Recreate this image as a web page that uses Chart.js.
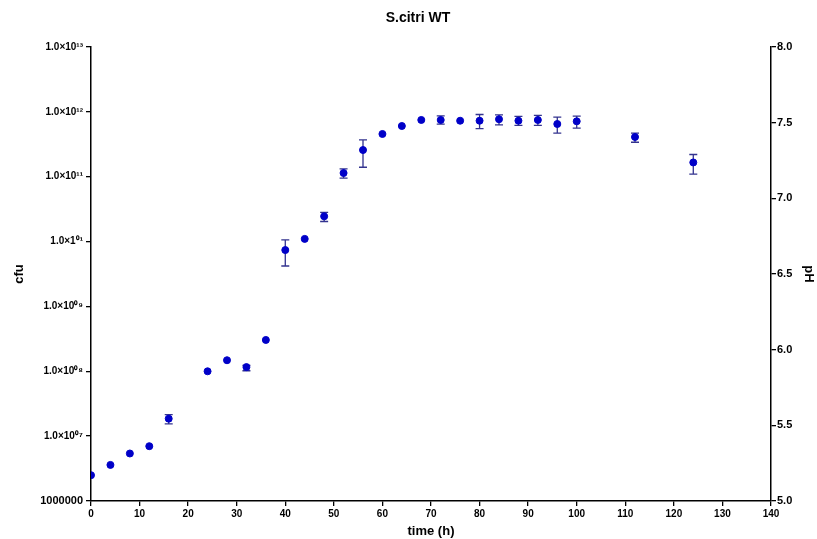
<!DOCTYPE html>
<html lang="en">
<head>
    <meta charset="UTF-8">
    <title>S.citri WT</title>
    <script src="https://cdn.jsdelivr.net/npm/chart.js"></script>
    <style>
        body {
            margin: 0;
            background: #fff;
        }
        .wrap {
            width: 817px;
            height: 539px;
            position: relative;
        }
    </style>
</head>
<body>
    <div class="wrap">
        <canvas id="growth"></canvas>
    </div>
    <script>
        // time points (h) and cfu readings with error range
        const hours = [0, 4, 8, 12, 16, 24, 28, 32, 36, 40, 44, 48, 52, 56, 60, 64, 68, 72, 76, 80, 84, 88, 92, 96, 100, 112, 124];
        const cfu = [2.5e6, 3.6e6, 5.4e6, 7.0e6, 1.86e7, 1.0e8, 1.48e8, 1.16e8, 3.04e8, 7.4e9, 1.1e10, 2.45e10, 1.14e11, 2.58e11,
            4.56e11, 6.05e11, 7.5e11, 7.5e11, 7.3e11, 7.3e11, 7.7e11, 7.3e11, 7.5e11, 6.5e11, 7.15e11, 4.1e11, 1.66e11];
        const cfuLow = [null, null, null, null, 1.55e7, null, null, 1.02e8, null, 4.2e9, null, 2.04e10, 9.5e10, 1.4e11,
            null, null, null, 6.46e11, null, 5.5e11, 6.3e11, 6.2e11, 6.2e11, 4.7e11, 5.6e11, 3.4e11, 1.1e11];
        const cfuHigh = [null, null, null, null, 2.14e7, null, null, 1.23e8, null, 1.06e10, null, 2.82e10, 1.32e11, 3.7e11,
            null, null, null, 8.7e11, null, 9.1e11, 9.0e11, 8.5e11, 8.85e11, 8.3e11, 8.6e11, 4.7e11, 2.2e11];

        const cfuTicks = [1e6, 1e7, 1e8, 1e9, 1e10, 1e11, 1e12, 1e13];
        const cfuTickLabels = ['1000000', '1.0×10⁰⁷', '1.0×10⁰⁸', '1.0×10⁰⁹', '1.0×1⁰¹', '1.0×10¹¹', '1.0×10¹²', '1.0×10¹³'];

        const chartTitle = 'S.citri WT';

        const points = hours.map((h, i) => ({ x: h, y: cfu[i] }));

        const sans = 'Liberation Sans, Arial, sans-serif';
        const tickFont = { family: sans, size: 10, weight: 'bold' };
        const titleFont = { family: sans, size: 13, weight: 'bold' };

        // error bars drawn under the points
        const errorBars = {
            id: 'errorBars',
            beforeDatasetsDraw(chart) {
                const ctx = chart.ctx;
                const xs = chart.scales.x;
                const ys = chart.scales.y;
                ctx.save();
                ctx.strokeStyle = '#33338f';
                ctx.lineWidth = 1.3;
                hours.forEach((h, i) => {
                    if (cfuLow[i] == null) return;
                    const px = xs.getPixelForValue(h);
                    const top = ys.getPixelForValue(cfuHigh[i]);
                    const bot = ys.getPixelForValue(cfuLow[i]);
                    ctx.beginPath();
                    ctx.moveTo(px, top);
                    ctx.lineTo(px, bot);
                    ctx.moveTo(px - 4, top);
                    ctx.lineTo(px + 4, top);
                    ctx.moveTo(px - 4, bot);
                    ctx.lineTo(px + 4, bot);
                    ctx.stroke();
                });
                ctx.restore();
            }
        };

        // title sits a little left of the plot centre, like the original
        const topTitle = {
            id: 'topTitle',
            afterDraw(chart) {
                const ctx = chart.ctx;
                const a = chart.chartArea;
                ctx.save();
                ctx.font = 'bold 14px ' + sans;
                ctx.fillStyle = '#000';
                ctx.textAlign = 'center';
                ctx.textBaseline = 'middle';
                ctx.fillText(chartTitle, (a.left + a.right) / 2 - 13, 18);
                ctx.restore();
            }
        };

        const chart = new Chart(document.getElementById('growth'), {
            type: 'scatter',
            data: {
                datasets: [{
                    label: chartTitle,
                    data: points,
                    yAxisID: 'y',
                    backgroundColor: '#0000c8',
                    borderColor: '#0000c8',
                    pointRadius: 3.5,
                    pointHoverRadius: 3.5
                }]
            },
            options: {
                responsive: true,
                maintainAspectRatio: false,
                animation: false,
                layout: { padding: { left: 0, right: 0, top: 47, bottom: 0 } },
                plugins: {
                    legend: { display: false },
                    tooltip: { enabled: false },
                    title: { display: false }
                },
                scales: {
                    x: {
                        type: 'linear',
                        min: 0,
                        max: 140,
                        ticks: { stepSize: 10, color: '#000', font: tickFont, padding: 2, maxRotation: 0 },
                        grid: { drawOnChartArea: false, drawTicks: true, tickLength: 5, color: '#000', lineWidth: 1.3 },
                        border: { display: true, color: '#000', width: 1.5 },
                        title: { display: true, text: 'time (h)', color: '#000', font: titleFont, padding: { top: 0, bottom: 0 } },
                        afterFit(scale) { scale.height = 38; }
                    },
                    y: {
                        type: 'logarithmic',
                        position: 'left',
                        min: 1e6,
                        max: 1e13,
                        afterBuildTicks(scale) {
                            scale.ticks = cfuTicks.map(v => ({ value: v }));
                        },
                        ticks: {
                            color: '#000',
                            font: (c) => (c.tick && c.tick.value === 1e6 ? { family: sans, size: 11, weight: 'bold' } : tickFont),
                            padding: 3,
                            callback: (v) => cfuTickLabels[cfuTicks.indexOf(v)]
                        },
                        grid: { drawOnChartArea: false, drawTicks: true, tickLength: 5, color: '#000', lineWidth: 1.3 },
                        border: { display: true, color: '#000', width: 1.5 },
                        title: { display: true, text: 'cfu', color: '#000', font: titleFont, padding: { top: 12, bottom: 0 } },
                        afterFit(scale) { scale.width = 91; }
                    },
                    ph: {
                        type: 'linear',
                        position: 'right',
                        display: true,
                        min: 5,
                        max: 8,
                        ticks: {
                            stepSize: 0.5,
                            color: '#000',
                            font: { family: sans, size: 11, weight: 'bold' },
                            padding: 1,
                            callback: (v) => v.toFixed(1)
                        },
                        grid: { drawOnChartArea: false, drawTicks: true, tickLength: 5, color: '#000', lineWidth: 1.3 },
                        border: { display: true, color: '#000', width: 1.5 },
                        title: { display: true, text: 'pH', color: '#000', font: titleFont, padding: { top: 1, bottom: 0 } },
                        afterFit(scale) { scale.width = 46; }
                    }
                }
            },
            plugins: [errorBars, topTitle]
        });
    </script>
</body>
</html>
